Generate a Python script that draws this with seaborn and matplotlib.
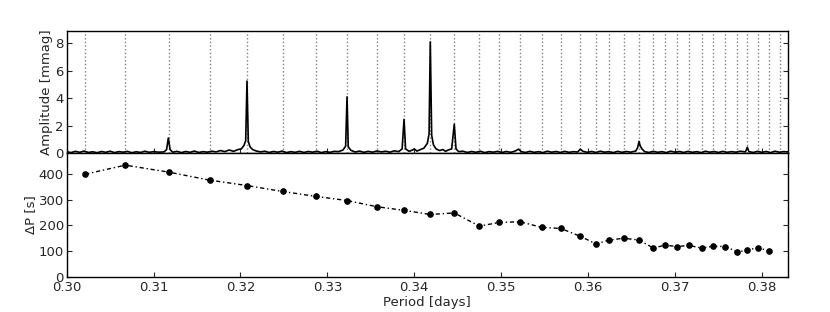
import numpy as np
import matplotlib
matplotlib.use("Agg")
import matplotlib.pyplot as plt
import seaborn as sns

# Periods of the identified modes [days] (dotted lines)
periods = [0.30214, 0.30675, 0.31174, 0.31645, 0.32075, 0.32485, 0.32869,
           0.33226, 0.33571, 0.33882, 0.34184, 0.34460, 0.34748, 0.34975,
           0.35217, 0.35466, 0.35685, 0.35907, 0.36091, 0.36241, 0.36410,
           0.36586, 0.36751, 0.36882, 0.37024, 0.37162, 0.37308, 0.37438,
           0.37580, 0.37717, 0.37832, 0.37955, 0.38085, 0.38207]

# Period spacing [s] plotted at the shorter period of each pair
delta_p = [398, 433, 406, 375, 354, 331, 312, 296, 272, 258, 242, 248, 197,
           211, 214, 192, 188, 158, 128, 143, 150, 143, 112, 123, 118, 122,
           112, 119, 118, 97, 104, 114, 100]

# Amplitude spectrum trace
spec_period = [0.3000, 0.3005, 0.3010, 0.3015, 0.3020, 0.3025, 0.3030, 0.3035,
               0.3040, 0.3045, 0.3050, 0.3055, 0.3060, 0.3065, 0.3070, 0.3075,
               0.3080, 0.3085, 0.3090, 0.3095, 0.3100, 0.3106, 0.3112, 0.3115,
               0.3117, 0.3119, 0.3122, 0.3127, 0.3132, 0.3137, 0.3142, 0.3147,
               0.3152, 0.3157, 0.3162, 0.3167, 0.3172, 0.3177, 0.3182, 0.3187,
               0.3192, 0.3197, 0.3201, 0.3204, 0.3206, 0.32075, 0.3209, 0.3211,
               0.3214, 0.3218, 0.3223, 0.3228, 0.3233, 0.3238, 0.3243, 0.3248,
               0.3253, 0.3258, 0.3263, 0.3268, 0.3273, 0.3278, 0.3283, 0.3288,
               0.3293, 0.3298, 0.3303, 0.3308, 0.3313, 0.3318, 0.3321, 0.33226,
               0.3324, 0.3327, 0.3332, 0.3337, 0.3342, 0.3347, 0.3352, 0.3357,
               0.3362, 0.3367, 0.3372, 0.3377, 0.3382, 0.3386, 0.33882, 0.3390,
               0.3394, 0.3398, 0.3400, 0.3403, 0.3407, 0.3411, 0.3415, 0.3417,
               0.34184, 0.3420, 0.3422, 0.3425, 0.3429, 0.3433, 0.3436, 0.3439,
               0.3443, 0.34460, 0.3448, 0.3451, 0.3456, 0.3461, 0.3466, 0.3471,
               0.3476, 0.3481, 0.3486, 0.3491, 0.3496, 0.3501, 0.3506, 0.3511,
               0.3516, 0.3520, 0.3523, 0.3528, 0.3533, 0.3538, 0.3543, 0.3548,
               0.3553, 0.3558, 0.3563, 0.3568, 0.3573, 0.3578, 0.3583, 0.3588,
               0.3591, 0.3594, 0.3599, 0.3604, 0.3609, 0.3614, 0.3619, 0.3624,
               0.3629, 0.3634, 0.3639, 0.3644, 0.3649, 0.3655, 0.3657, 0.36586,
               0.3660, 0.3662, 0.3665, 0.3670, 0.3675, 0.3680, 0.3685, 0.3690,
               0.3695, 0.3700, 0.3705, 0.3710, 0.3715, 0.3720, 0.3725, 0.3730,
               0.3735, 0.3740, 0.3745, 0.3750, 0.3755, 0.3760, 0.3765, 0.3770,
               0.3775, 0.3781, 0.37832, 0.3785, 0.3790, 0.3795, 0.3800, 0.3805,
               0.3810, 0.3815, 0.3820, 0.3825, 0.3830]
spec_amp = [0.10, 0.03, 0.12, 0.05, 0.14, 0.04, 0.09, 0.02, 0.11, 0.05, 0.13,
            0.03, 0.10, 0.06, 0.12, 0.02, 0.09, 0.04, 0.13, 0.05, 0.10, 0.06,
            0.08, 0.25, 1.10, 0.25, 0.06, 0.12, 0.03, 0.11, 0.05, 0.14, 0.04,
            0.10, 0.06, 0.13, 0.08, 0.18, 0.10, 0.22, 0.12, 0.25, 0.30, 0.55,
            0.90, 5.25, 0.85, 0.45, 0.25, 0.15, 0.08, 0.13, 0.04, 0.11, 0.06,
            0.14, 0.03, 0.10, 0.05, 0.12, 0.04, 0.11, 0.06, 0.13, 0.03, 0.10,
            0.05, 0.12, 0.10, 0.22, 0.50, 4.10, 0.45, 0.20, 0.07, 0.14, 0.05,
            0.12, 0.06, 0.15, 0.08, 0.13, 0.06, 0.16, 0.10, 0.30, 2.45, 0.30,
            0.12, 0.22, 0.30, 0.14, 0.25, 0.35, 0.70, 1.40, 8.10, 1.30, 0.60,
            0.30, 0.18, 0.25, 0.12, 0.22, 0.30, 2.10, 0.30, 0.10, 0.13, 0.04,
            0.11, 0.05, 0.13, 0.03, 0.10, 0.06, 0.12, 0.04, 0.11, 0.05, 0.14,
            0.28, 0.10, 0.04, 0.12, 0.05, 0.10, 0.03, 0.13, 0.06, 0.11, 0.04,
            0.12, 0.05, 0.10, 0.07, 0.28, 0.12, 0.05, 0.11, 0.04, 0.13, 0.06,
            0.10, 0.03, 0.12, 0.05, 0.11, 0.06, 0.15, 0.40, 0.85, 0.50, 0.30,
            0.10, 0.04, 0.12, 0.05, 0.10, 0.03, 0.13, 0.06, 0.11, 0.04, 0.12,
            0.05, 0.10, 0.03, 0.13, 0.06, 0.11, 0.04, 0.12, 0.05, 0.10, 0.06,
            0.13, 0.08, 0.42, 0.10, 0.04, 0.12, 0.05, 0.11, 0.03, 0.13, 0.06,
            0.10, 0.08]

sns.set_style("ticks", {"xtick.direction": "in", "ytick.direction": "in"})
plt.rcParams.update({
    "font.family": ["DejaVu Sans"],
    "font.size": 9.5,
    "axes.labelsize": 9.5,
    "xtick.labelsize": 9.5,
    "ytick.labelsize": 9.5,
    "axes.linewidth": 1.0,
    "xtick.major.size": 3.5,
    "ytick.major.size": 3.5,
})

fig = plt.figure(figsize=(8.3, 3.12), dpi=100)
ax1 = fig.add_axes([0.0803, 0.5096, 0.8691, 0.3910])
ax2 = fig.add_axes([0.0803, 0.1122, 0.8691, 0.3974], sharex=ax1)

# Amplitude spectrum
for p in periods:
    ax1.axvline(p, color="0.5", linestyle=":", linewidth=1.0, zorder=1)
sns.lineplot(x=spec_period, y=spec_amp, ax=ax1, color="black", linewidth=1.2,
             estimator=None, sort=False, zorder=3)
ax1.set_ylim(0, 8.9)
ax1.set_yticks([0, 2, 4, 6, 8])
ax1.set_ylabel("Amplitude [mmag]", labelpad=2)
ax1.tick_params(axis="x", labelbottom=False, top=False, bottom=True)
ax1.tick_params(axis="y", right=True, pad=2)

# Period spacing
sns.lineplot(x=periods[:-1], y=delta_p, ax=ax2, color="black", linewidth=1.0,
             dashes=False, marker="o", markersize=4, markeredgecolor="black",
             estimator=None, sort=False)
ax2.lines[-1].set_dashes((3, 2, 1, 2))
ax2.set_xlim(0.30, 0.383)
ax2.set_ylim(0, 480)
ax2.set_yticks([0, 100, 200, 300, 400])
ax2.set_xticks([0.30, 0.31, 0.32, 0.33, 0.34, 0.35, 0.36, 0.37, 0.38])
ax2.set_xticklabels(["0.30", "0.31", "0.32", "0.33", "0.34", "0.35",
                     "0.36", "0.37", "0.38"])
ax2.set_xlabel("Period [days]", labelpad=1)
ax2.set_ylabel("ΔP [s]", labelpad=1)
ax2.tick_params(axis="y", right=True, pad=2)
ax2.tick_params(axis="x", top=False, pad=3)

for ax in (ax1, ax2):
    for s in ax.spines.values():
        s.set_visible(True)
        s.set_color("black")

fig.savefig("out.png", dpi=100)
